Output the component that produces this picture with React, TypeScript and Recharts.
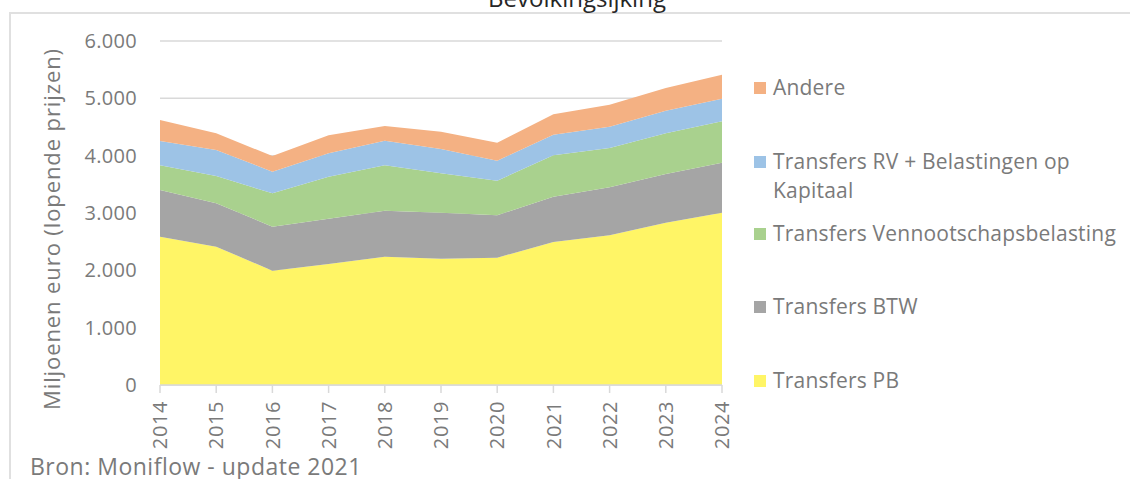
import { AreaChart, Area, XAxis, YAxis, CartesianGrid } from "recharts";

const years = ["2014", "2015", "2016", "2017", "2018", "2019", "2020", "2021", "2022", "2023", "2024"];
const transfersPB = [2587, 2413, 1994, 2110, 2238, 2204, 2221, 2494, 2611, 2831, 3006];
const transfersBTW = [814, 756, 768, 791, 802, 802, 739, 791, 837, 849, 872];
const transfersVB = [431, 476, 582, 733, 792, 686, 604, 721, 686, 710, 721];
const transfersRV = [424, 454, 377, 407, 430, 425, 349, 360, 372, 395, 395];
const andere = [366, 291, 273, 314, 256, 302, 314, 355, 383, 395, 418];
const yTicks = [0, 1000, 2000, 3000, 4000, 5000, 6000];

const series = [
  { key: "pb", name: "Transfers PB", color: "#FFF566", values: transfersPB },
  { key: "btw", name: "Transfers BTW", color: "#A5A5A5", values: transfersBTW },
  { key: "vb", name: "Transfers Vennootschapsbelasting", color: "#A9D18E", values: transfersVB },
  { key: "rv", name: "Transfers RV + Belastingen op Kapitaal", color: "#9DC3E6", values: transfersRV },
  { key: "andere", name: "Andere", color: "#F4B183", values: andere },
];

const data = years.map((year, i) => {
  const row: Record<string, string | number> = { year };
  series.forEach((s) => (row[s.key] = s.values[i]));
  return row;
});

const FONT = "'Open Sans', sans-serif";
const GREY = "#7a7a7a";

// legend rows sit at uneven heights in the original (Excel layout)
const legendTop: Record<string, number> = { andere: 73, rv: 147, vb: 219, btw: 292, pb: 366 };

const fmt = (v: number) => String(v).replace(/\B(?=(\d{3})+(?!\d))/g, ".");

function YearTick({ x, y, payload }: any) {
  return (
    <text
      transform={`translate(${x},${y + 6}) rotate(-90)`}
      textAnchor="end"
      dy="0.36em"
      fill={GREY}
      fontSize={20}
      letterSpacing={0.6}
      fontFamily={FONT}
    >
      {payload.value}
    </text>
  );
}

export default function App() {
  return (
    <div style={{ position: "absolute", left: 0, top: 0, width: 1130, height: 479, overflow: "hidden", background: "#fff", fontFamily: FONT }}>
      <div style={{ position: "absolute", left: 9, top: 12, width: 1300, height: 700, border: "2px solid #e0e0e0" }} />
      <div style={{ position: "absolute", left: 0, width: 1154, top: -19, textAlign: "center", fontSize: 24, color: "#262626" }}>
        Bevolkingsijking
      </div>

      <AreaChart
        width={1130}
        height={479}
        data={data}
        margin={{ top: 41, right: 408, left: 0, bottom: 0 }}
        style={{ position: "absolute", left: 0, top: 0 }}
      >
        <CartesianGrid vertical={false} stroke="#d9d9d9" strokeWidth={1.5} />
        <XAxis
          dataKey="year"
          height={94}
          stroke="#d9d9d9"
          strokeWidth={1.5}
          tickSize={8}
          tick={<YearTick />}
          interval={0}
        />
        <YAxis
          width={160}
          domain={[0, 6000]}
          ticks={yTicks}
          axisLine={false}
          tickLine={false}
          tickSize={0}
          tickMargin={23}
          tickFormatter={fmt}
          tick={{ fill: GREY, fontSize: 20, fontFamily: FONT, letterSpacing: 0.3 }}
          label={{
            value: "Miljoenen euro (lopende prijzen)",
            angle: -90,
            position: "insideLeft",
            offset: 52,
            dy: 16,
            style: { fill: GREY, fontSize: 22, fontFamily: FONT, textAnchor: "middle", letterSpacing: 0.9 },
          }}
        />
        {series.map((s) => (
          <Area
            key={s.key}
            dataKey={s.key}
            name={s.name}
            stackId="1"
            type="linear"
            fill={s.color}
            fillOpacity={1}
            stroke="none"
            isAnimationActive={false}
          />
        ))}
      </AreaChart>

      {[...series].reverse().map((s) => (
        <div key={s.key} style={{ position: "absolute", left: 754, top: legendTop[s.key], width: 376, display: "flex", alignItems: "flex-start" }}>
          <div style={{ width: 12, height: 12, background: s.color, marginTop: 9, marginRight: 7, flex: "none" }} />
          <div style={{ fontSize: 21, lineHeight: "29px", letterSpacing: 0.2, color: GREY, width: s.key === "rv" ? 330 : 370, whiteSpace: s.key === "rv" ? "normal" : "nowrap" }}>
            {s.name}
          </div>
        </div>
      ))}

      <div style={{ position: "absolute", left: 30, top: 450, fontSize: 23, letterSpacing: 0.5, color: GREY, whiteSpace: "nowrap" }}>
        Bron: Moniflow - update 2021
      </div>
    </div>
  );
}
